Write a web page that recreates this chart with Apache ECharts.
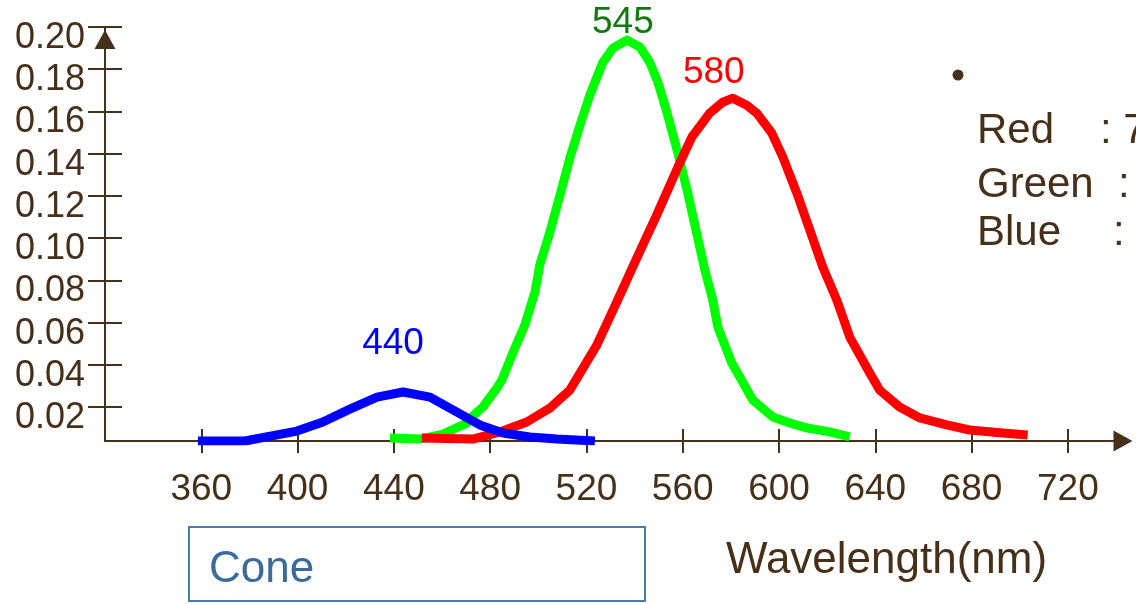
<!DOCTYPE html>
<html>
<head>
<meta charset="utf-8">
<script src="https://cdn.jsdelivr.net/npm/echarts@6/dist/echarts.min.js"></script>
<style>html,body{margin:0;padding:0;background:#fff}#c{width:1136px;height:604px}</style>
</head>
<body>
<div id="c"></div>
<script>
// ---- data ----
const wavelengthTicks = [360, 400, 440, 480, 520, 560, 600, 640, 680, 720];
const sensitivityTicks = [0.02, 0.04, 0.06, 0.08, 0.10, 0.12, 0.14, 0.16, 0.18, 0.20];

const blueCone = [
  [358.6, 0.0040], [378.1, 0.0040], [399.7, 0.0087], [410.5, 0.0130], [421.7, 0.0191],
  [433.0, 0.0248], [443.8, 0.0272], [455.0, 0.0248], [466.2, 0.0177], [475.7, 0.0116],
  [485.3, 0.0078], [496.5, 0.0059], [507.7, 0.0049], [523.5, 0.0040]
];
const greenCone = [
  [438.4, 0.0054], [450.8, 0.0049], [460.4, 0.0073], [470.3, 0.0125], [472.4, 0.0154],
  [477.0, 0.0201], [482.8, 0.0291], [484.9, 0.0329], [489.4, 0.0457], [494.4, 0.0589],
  [498.6, 0.0745], [500.6, 0.0873], [504.8, 0.1029], [509.0, 0.1204], [513.1, 0.1379],
  [517.3, 0.1535], [521.4, 0.1677], [526.8, 0.1833], [531.0, 0.1900], [536.8, 0.1938],
  [542.2, 0.1905], [546.3, 0.1833], [549.7, 0.1738], [553.4, 0.1597], [558.0, 0.1403],
  [562.1, 0.1214], [565.8, 0.1024], [569.2, 0.0849], [572.5, 0.0707], [574.6, 0.0579],
  [580.4, 0.0409], [589.1, 0.0234], [597.4, 0.0154], [604.5, 0.0125], [611.5, 0.0102],
  [621.1, 0.0083], [629.4, 0.0059]
];
const redCone = [
  [451.6, 0.0054], [472.8, 0.0049], [484.0, 0.0083], [495.2, 0.0130], [504.8, 0.0196],
  [513.1, 0.0281], [524.3, 0.0494], [532.6, 0.0698], [540.9, 0.0906], [549.2, 0.1110],
  [558.7, 0.1355], [563.8, 0.1479], [571.2, 0.1592], [576.6, 0.1644], [580.8, 0.1663],
  [586.6, 0.1630], [590.8, 0.1592], [597.0, 0.1498], [601.6, 0.1384], [607.4, 0.1214],
  [612.8, 0.1039], [618.2, 0.0863], [624.0, 0.0707], [629.4, 0.0532], [637.7, 0.0362],
  [641.8, 0.0281], [650.1, 0.0201], [658.5, 0.0149], [669.7, 0.0116], [679.2, 0.0092],
  [692.9, 0.0078], [703.3, 0.0068]
];
const peakNames = ['440', '545', '580'];          // blue, green, red
const sideNames = ['Red', 'Green', 'Blue'];
const sideValues = ['7', '', ''];
const boxLabel = 'Cone';
const axisName = 'Wavelength(nm)';

// ---- styling ----
const BROWN = '#47301a';
const FONT = '"Liberation Sans", Arial, sans-serif';
const gridBox = { left: 105, right: 20, top: 27, bottom: 163, containLabel: false };
const tickStyle = { color: BROWN, width: 2 };

function peakOf(arr) {
  let best = arr[0];
  arr.forEach(p => { if (p[1] > best[1]) best = p; });
  return best;
}
const curves = [
  { data: blueCone, text: '#0000ff', off: [-10, -24], name: peakNames[0] },
  { data: greenCone, text: '#107a10', off: [-4, 7], name: peakNames[1] },
  { data: redCone, text: '#ff0000', off: [-19, -1], name: peakNames[2] }
];

const lineSeries = [greenCone, redCone, blueCone].map((d, i) => {
  const col = ['#00ff00', '#ff0000', '#0000ff'][i];
  return {
    type: 'line', xAxisIndex: 0, yAxisIndex: 0, data: d,
    showSymbol: false, symbol: 'none', smooth: false, z: 3 + i,
    lineStyle: { color: col, width: 9, cap: 'butt', join: 'round', opacity: 1 },
    silent: true
  };
});

const peakSeries = {
  type: 'scatter', xAxisIndex: 0, yAxisIndex: 0, symbolSize: 0, z: 10, silent: true,
  itemStyle: { opacity: 1 },
  data: curves.map(c => ({
    value: peakOf(c.data),
    label: { show: true, position: 'top', formatter: c.name, color: c.text,
             fontSize: 37, fontFamily: FONT, offset: c.off, distance: 6 }
  }))
};

const sideRows = [131, 185, 233];
const graphics = [
  { type: 'circle', shape: { cx: 958, cy: 75, r: 5.5 }, style: { fill: BROWN } }
];
sideNames.forEach((n, i) => {
  graphics.push({ type: 'text', style: { text: n, x: 977, y: sideRows[i], font: '42px ' + FONT,
    fill: BROWN, textAlign: 'left', verticalAlign: 'middle' } });
  graphics.push({ type: 'text', style: { text: ':' + (sideValues[i] ? ' ' + sideValues[i] : ''),
    x: [1100, 1118, 1113][i], y: sideRows[i], font: '42px ' + FONT,
    fill: BROWN, textAlign: 'left', verticalAlign: 'middle' } });
});
graphics.push({ type: 'rect', shape: { x: 189, y: 527, width: 456, height: 74 },
  style: { fill: 'none', stroke: '#4a79ad', lineWidth: 2 } });
graphics.push({ type: 'text', style: { text: boxLabel, x: 209, y: 570, font: '44px ' + FONT,
  fill: '#3b6a9c', textAlign: 'left', verticalAlign: 'middle' } });
graphics.push({ type: 'text', style: { text: axisName, x: 726, y: 561, font: '44px ' + FONT,
  fill: BROWN, textAlign: 'left', verticalAlign: 'middle' } });

const option = {
  animation: false,
  backgroundColor: '#ffffff',
  grid: [Object.assign({}, gridBox), Object.assign({}, gridBox)],
  xAxis: [
    { type: 'value', gridIndex: 0, min: 320, max: 740, splitLine: { show: false },
      axisLine: { show: true, onZero: false, symbol: ['none', 'triangle'], symbolSize: [21, 19],
                  symbolOffset: [0, 7], lineStyle: { color: BROWN, width: 2 } },
      axisTick: { show: true, inside: true, length: 12, customValues: wavelengthTicks, lineStyle: tickStyle },
      axisLabel: { show: true, customValues: wavelengthTicks, color: BROWN, fontSize: 37,
                   fontFamily: FONT, margin: 30 } },
    { type: 'value', gridIndex: 1, min: 320, max: 740, splitLine: { show: false },
      axisLine: { show: false, onZero: false },
      axisTick: { show: true, inside: false, length: 12, customValues: wavelengthTicks, lineStyle: tickStyle },
      axisLabel: { show: false } }
  ],
  yAxis: [
    { type: 'value', gridIndex: 0, min: 0.004, max: 0.2, splitLine: { show: false },
      axisLine: { show: true, onZero: false, symbol: ['none', 'triangle'], symbolSize: [21, 19],
                  symbolOffset: [0, -12.5], lineStyle: { color: BROWN, width: 2 } },
      axisTick: { show: true, inside: true, length: 17, customValues: sensitivityTicks, lineStyle: tickStyle },
      axisLabel: { show: true, customValues: sensitivityTicks, color: BROWN, fontSize: 36,
                   fontFamily: FONT, margin: 20, verticalAlign: 'top', lineHeight: 22,
                   formatter: v => v.toFixed(2) } },
    { type: 'value', gridIndex: 1, min: 0.004, max: 0.2, splitLine: { show: false },
      axisLine: { show: false, onZero: false },
      axisTick: { show: true, inside: false, length: 17, customValues: sensitivityTicks, lineStyle: tickStyle },
      axisLabel: { show: false } }
  ],
  series: lineSeries.concat([peakSeries]),
  graphic: graphics
};

const chart = echarts.init(document.getElementById('c'), null, { renderer: 'canvas' });
chart.setOption(option);
</script>
</body>
</html>
